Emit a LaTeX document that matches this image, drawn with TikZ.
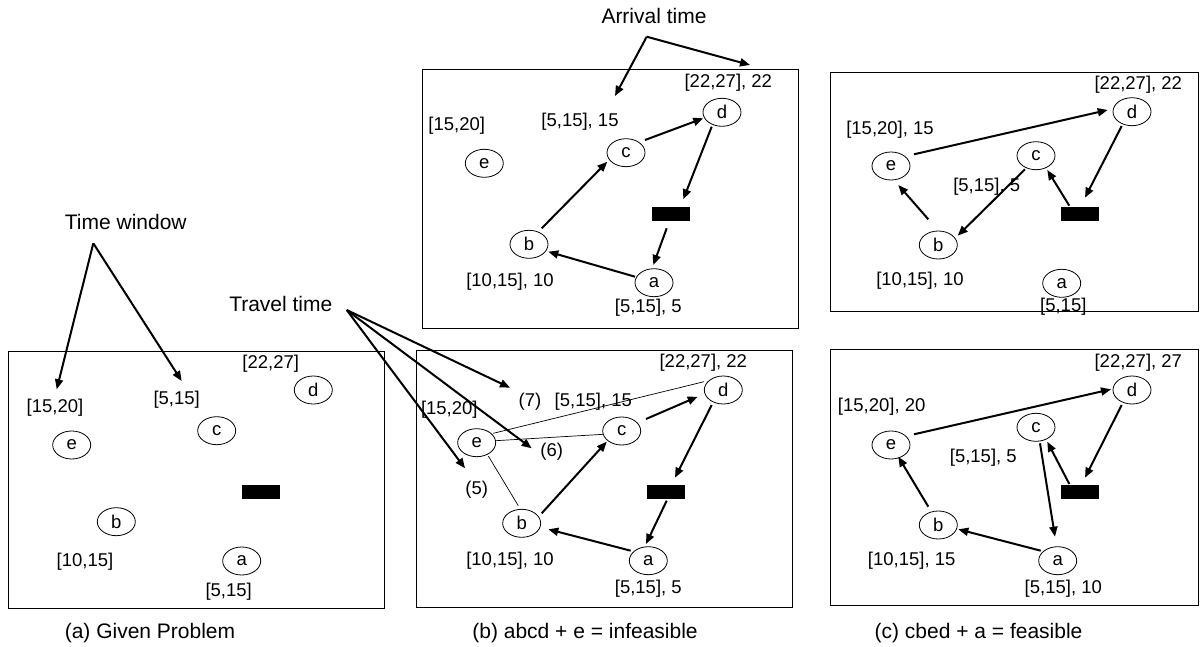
\documentclass[tikz,border=0pt]{standalone}
\usepackage{fontspec}
\setmainfont{Liberation Sans}
\usetikzlibrary{shapes.geometric,arrows.meta}
\newcommand\labfont{\fontsize{18.5}{22}\selectfont}
\newcommand\headfont{\fontsize{21}{25}\selectfont}
\tikzset{
  nd/.style={ellipse, draw, line width=0.8pt, minimum width=38pt, minimum height=28pt, inner sep=0pt, font=\labfont},
  lab/.style={font=\labfont, inner sep=0pt, text height=0.75em, text depth=0.2em},
  head/.style={font=\headfont, inner sep=0pt, text height=0.75em, text depth=0.2em},
  depot/.style={fill=black, minimum width=38pt, minimum height=14pt, inner sep=0pt},
  arr/.style={line width=2pt, -{Triangle[length=10pt,width=8pt]}},
  thinln/.style={line width=0.7pt},
  frame/.style={draw, line width=1pt}
}
\begin{document}
\begin{tikzpicture}[x=1pt,y=-1pt]
\useasboundingbox (0,0) rectangle (1203,647);

% ---------- frames ----------
\draw[frame] (8,351) rectangle (384,608);
\draw[frame] (422,70) rectangle (798,328);
\draw[frame] (416,350) rectangle (792,607);
\draw[frame] (830,73) rectangle (1198,312);
\draw[frame] (830,349) rectangle (1198,605);

% ---------- panel (a) ----------
\node[nd] (p1e) at (71.7,445) {e};
\node[nd] (p1c) at (216.7,430.7) {c};
\node[nd] (p1d) at (313.3,390) {d};
\node[nd] (p1b) at (116.3,521.7) {b};
\node[nd] (p1a) at (241.7,561) {a};
\node[depot] (p1r) at (261,492) {};
\node[lab] (p1le) at (55,409.3) {[15,20]};
\node[lab] (p1lc) at (176.7,401.7) {[5,15]};
\node[lab] (p1ld) at (270.7,366) {[22,27]};
\node[lab] (p1lb) at (85,563.3) {[10,15]};
\node[lab] (p1la) at (228.7,593.3) {[5,15]};

% ---------- panel (b) top ----------
\node[nd] (p2e) at (484.3,163.3) {e};
\node[nd] (p2c) at (626,152.7) {c};
\node[nd] (p2d) at (722,112.3) {d};
\node[nd] (p2b) at (529,244.3) {b};
\node[nd] (p2a) at (654,282.7) {a};
\node[depot] (p2r) at (671,213.7) {};
\node[lab] (p2le) at (456.7,127.7) {[15,20]};
\node[lab] (p2lc) at (580,123.3) {[5,15], 15};
\node[lab] (p2ld) at (728.3,84.3) {[22,27], 22};
\node[lab] (p2lb) at (510,284) {[10,15], 10};
\node[lab] (p2la) at (648.3,310) {[5,15], 5};
\draw[arr] ([shift={(12.7,-16)}]p2b.center) -- ([shift={(-18.7,9)}]p2c.center);
\draw[arr] ([shift={(19,-12.7)}]p2c.center) -- ([shift={(-18.7,6)}]p2d.center);
\draw[arr] ([shift={(-10.3,14.4)}]p2d.center) -- ([shift={(12.3,-14.4)}]p2r.center);
\draw[arr] ([shift={(-4.3,14.6)}]p2r.center) -- ([shift={(-0.7,-17.7)}]p2a.center);
\draw[arr] ([shift={(-19,-6)}]p2a.center) -- ([shift={(19.3,7.4)}]p2b.center);

% ---------- panel (b) bottom ----------
\node[nd] (p3e) at (476.7,442.7) {e};
\node[nd] (p3c) at (621.7,431) {c};
\node[nd] (p3d) at (723.3,390) {d};
\node[nd] (p3b) at (521.7,523.3) {b};
\node[nd] (p3a) at (648.3,560.7) {a};
\node[depot] (p3r) at (665.8,491.5) {};
\node[lab] (p3le) at (449.3,411.7) {[15,20]};
\node[lab] (p3t7) at (530,403.3) {(7)};
\node[lab] (p3lc) at (593.3,403.3) {[5,15], 15};
\node[lab] (p3ld) at (703.3,365) {[22,27], 22};
\node[lab] (p3t6) at (551.7,453.3) {(6)};
\node[lab] (p3t5) at (476.7,491.7) {(5)};
\node[lab] (p3lb) at (510,562.7) {[10,15], 10};
\node[lab] (p3la) at (648.3,590.7) {[5,15], 5};
\draw[thinln] ([shift={(16.6,-9.4)}]p3e.center) -- ([shift={(-19.3,-8.3)}]p3d.center);
\draw[thinln] ([shift={(19,-2)}]p3e.center) -- ([shift={(-18.4,3.3)}]p3c.center);
\draw[thinln] ([shift={(11.6,13.3)}]p3e.center) -- ([shift={(-3.4,-17.6)}]p3b.center);
\draw[arr] ([shift={(20,-10)}]p3b.center) -- ([shift={(-15,10.7)}]p3c.center);
\draw[arr] ([shift={(24.3,-12)}]p3c.center) -- ([shift={(-25.6,6.7)}]p3d.center);
\draw[arr] ([shift={(-11.6,15)}]p3d.center) -- ([shift={(9.2,-13.8)}]p3r.center);
\draw[arr] ([shift={(0.9,9.2)}]p3r.center) -- ([shift={(-2.3,-16.7)}]p3a.center);
\draw[arr] ([shift={(-17.6,-10)}]p3a.center) -- ([shift={(26.6,6)}]p3b.center);

% ---------- panel (c) top ----------
\node[nd] (p4e) at (891,166) {e};
\node[nd] (p4c) at (1036,155.7) {c};
\node[nd] (p4d) at (1132,111.7) {d};
\node[nd] (p4b) at (938.3,245) {b};
\node[nd] (p4a) at (1061.7,283.3) {a};
\node[depot] (p4r) at (1079.5,214) {};
\node[lab] (p4ld) at (1138.3,86.7) {[22,27], 22};
\node[lab] (p4le) at (890,131.7) {[15,20], 15};
\node[lab] (p4lc) at (986.7,188.3) {[5,15], 5};
\node[lab] (p4lb) at (920,282.7) {[10,15], 10};
\node[lab] (p4la) at (1063.3,308.3) {[5,15]};
\draw[arr] ([shift={(23,-11.7)}]p4e.center) -- ([shift={(-24.3,-1.7)}]p4d.center);
\draw[arr] ([shift={(-10.3,14.3)}]p4d.center) -- ([shift={(5.5,-16.3)}]p4r.center);
\draw[arr] ([shift={(-10.2,-8.3)}]p4r.center) -- ([shift={(11.3,14.3)}]p4c.center);
\draw[arr] ([shift={(-11,13.6)}]p4c.center) -- ([shift={(19.4,-9.3)}]p4b.center);
\draw[arr] ([shift={(-10,-25.7)}]p4b.center) -- ([shift={(7.3,19)}]p4e.center);

% ---------- panel (c) bottom ----------
\node[nd] (p5e) at (891,445) {e};
\node[nd] (p5c) at (1036,427.3) {c};
\node[nd] (p5d) at (1132,390) {d};
\node[nd] (p5b) at (938.3,525) {b};
\node[nd] (p5a) at (1057.7,560.7) {a};
\node[depot] (p5r) at (1079.5,491.5) {};
\node[lab] (p5ld) at (1138.3,365) {[22,27], 27};
\node[lab] (p5le) at (881.7,408.3) {[15,20], 20};
\node[lab] (p5lc) at (983.3,460) {[5,15], 5};
\node[lab] (p5lb) at (911.7,562.7) {[10,15], 15};
\node[lab] (p5la) at (1063.3,590.7) {[5,15], 10};
\draw[arr] ([shift={(23,-10.7)}]p5e.center) -- ([shift={(-21,-0.7)}]p5d.center);
\draw[arr] ([shift={(-10.3,15)}]p5d.center) -- ([shift={(5.5,-13.8)}]p5r.center);
\draw[arr] ([shift={(-10.2,-7.5)}]p5r.center) -- ([shift={(11.3,14.4)}]p5c.center);
\draw[arr] ([shift={(4,16)}]p5c.center) -- ([shift={(-2.7,-24)}]p5a.center);
\draw[arr] ([shift={(-17,-10)}]p5a.center) -- ([shift={(20,4.3)}]p5b.center);
\draw[arr] ([shift={(-10,-18.3)}]p5b.center) -- ([shift={(7.3,11.7)}]p5e.center);

% ---------- annotations ----------
\node[head] (tw) at (125.8,226.7) {Time window};
\coordinate (twS) at (93.3,243.3);
\coordinate (twE1) at (56.7,389.3);
\coordinate (twE2) at (181.7,381);
\draw[arr] (twS) -- (twE1);
\draw[arr] (twS) -- (twE2);

\node[head] (at) at (654,20.8) {Arrival time};
\coordinate (atS) at (646.7,36.7);
\coordinate (atE1) at (615,96);
\coordinate (atE2) at (750,65);
\draw[arr] (atS) -- (atE1);
\draw[arr] (atS) -- (atE2);

\node[head] (tt) at (280.8,308.3) {Travel time};
\coordinate (ttS) at (346.7,310);
\coordinate (ttE1) at (510,387.7);
\coordinate (ttE2) at (531.7,448.3);
\coordinate (ttE3) at (465,468.3);
\draw[arr] (ttS) -- (ttE1);
\draw[arr] (ttS) -- (ttE2);
\draw[arr] (ttS) -- (ttE3);

% ---------- captions ----------
\node[head] (capa) at (150,636) {(a) Given Problem};
\node[head] (capb) at (585,636) {(b) abcd + e = infeasible};
\node[head] (capc) at (978.5,636) {(c) cbed + a = feasible};
\end{tikzpicture}
\end{document}
